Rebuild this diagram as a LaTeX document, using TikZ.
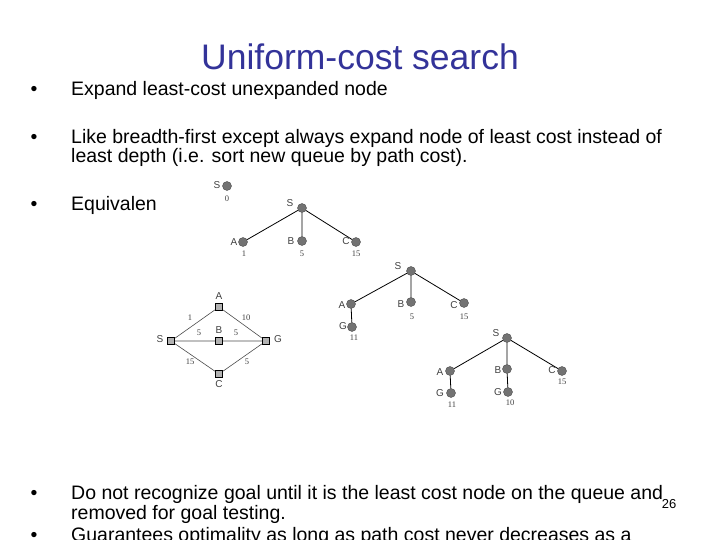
\documentclass[tikz,border=0pt]{standalone}
\usepackage{fontspec}
\setmainfont{Liberation Sans}
\newfontfamily\numfont{Liberation Serif}
\begin{document}
\begin{tikzpicture}[x=1pt,y=-1pt,
  tnode/.style={circle,draw=black!70,fill=black!55,inner sep=0pt,minimum size=9pt},
  gnode/.style={rectangle,draw=black,line width=1.3pt,fill=black!30,inner sep=0pt,minimum size=7pt},
  lab/.style={font=\fontsize{10}{12}\selectfont,text=black!75},
  num/.style={font=\numfont\fontsize{8.5}{10}\selectfont,text=black!75},
  body/.style={anchor=base west,inner sep=0pt,font=\fontsize{19.5}{23}\selectfont}]
\useasboundingbox (0,0) rectangle (720,540);
\node[font=\fontsize{35.5}{40}\selectfont,text={rgb,255:red,51;green,51;blue,153}] (title) at (360,57) {Uniform-cost search};
% bullets
\foreach \y in {96,144,211,499,541} \node[font=\fontsize{19.5}{23}\selectfont,anchor=base] at (34,\y) {\textbullet};
\node[body] (b1) at (71,96) {Expand least-cost unexpanded node};
\node[body] (b2) at (71,144) {Like breadth-first except always expand node of least cost instead of};
\node[body] (b2b) at (71,163) {least depth (i.e. sort new queue by path cost).};
\node[body] (b3) at (71,211) {Equivalen};
\node[body] (b4) at (71,499) {Do not recognize goal until it is the least cost node on the queue and};
\node[body] (b4b) at (71,519) {removed for goal testing.};
\node[body] (b5) at (71,541) {Guarantees optimality as long as path cost never decreases as a};
\node[font=\fontsize{13}{15}\selectfont] (page) at (669,504) {26};
% tree 0
\node[tnode] (s0) at (227,186) {};
\node[lab] at (217,185) {S}; \node[num] at (227,199) {0};
% tree 1
\node[tnode] (s1) at (302,208) {};
\node[tnode] (a1) at (243,242) {};
\node[tnode] (b1n) at (302,241) {};
\node[tnode] (c1) at (356,242) {};
\draw[thick] (s1) -- (a1) (s1) -- (b1n) (s1) -- (c1);
\node[lab] at (290,203) {S}; \node[lab] at (234,242) {A}; \node[lab] at (291,241) {B}; \node[lab] at (346,241) {C};
\node[num] at (244,254) {1}; \node[num] at (302,254) {5}; \node[num] at (356,254) {15};
% tree 2
\node[tnode] (s2) at (411,271) {};
\node[tnode] (a2) at (351,304) {};
\node[tnode] (b2n) at (411,302) {};
\node[tnode] (c2) at (464,303) {};
\node[tnode] (g2) at (352,327) {};
\draw[thick] (s2) -- (a2) (s2) -- (b2n) (s2) -- (c2) (a2) -- (g2);
\node[lab] at (398,266) {S}; \node[lab] at (342,305) {A}; \node[lab] at (401,304) {B}; \node[lab] at (454,305) {C}; \node[lab] at (343,326) {G};
\node[num] at (354,338) {11}; \node[num] at (412,317) {5}; \node[num] at (464,317) {15};
% tree 3
\node[tnode] (s3) at (507,338) {};
\node[tnode] (a3) at (450,371) {};
\node[tnode] (b3n) at (507,369) {};
\node[tnode] (c3) at (562,371) {};
\node[tnode] (ga3) at (451,393) {};
\node[tnode] (gb3) at (508,392) {};
\draw[thick] (s3) -- (a3) (s3) -- (b3n) (s3) -- (c3) (a3) -- (ga3) (b3n) -- (gb3);
\node[lab] at (496,333) {S}; \node[lab] at (440,372) {A}; \node[lab] at (498,370) {B}; \node[lab] at (552,370) {C};
\node[lab] at (440,393) {G}; \node[lab] at (498,392) {G};
\node[num] at (452,405) {11}; \node[num] at (510,403) {10}; \node[num] at (562,382) {15};
% state graph
\node[gnode] (gs) at (171,341) {};
\node[gnode] (ga) at (219,307) {};
\node[gnode] (gb) at (219,341) {};
\node[gnode] (gc) at (219,374) {};
\node[gnode] (gg) at (266,341) {};
\draw[black!70,semithick] (gs) -- (ga) (ga) -- (gg) (gs) -- (gb) (gb) -- (gg) (gs) -- (gc) (gc) -- (gg);
\node[lab] at (160,339) {S}; \node[lab] at (219,296) {A}; \node[lab] at (219,330) {B};
\node[lab] at (278,339) {G}; \node[lab] at (219,384) {C};
\node[num] at (190,318) {1}; \node[num] at (246,318) {10}; \node[num] at (199,333) {5};
\node[num] at (236,333) {5}; \node[num] at (190,362) {15}; \node[num] at (247,362) {5};
\end{tikzpicture}
\end{document}
